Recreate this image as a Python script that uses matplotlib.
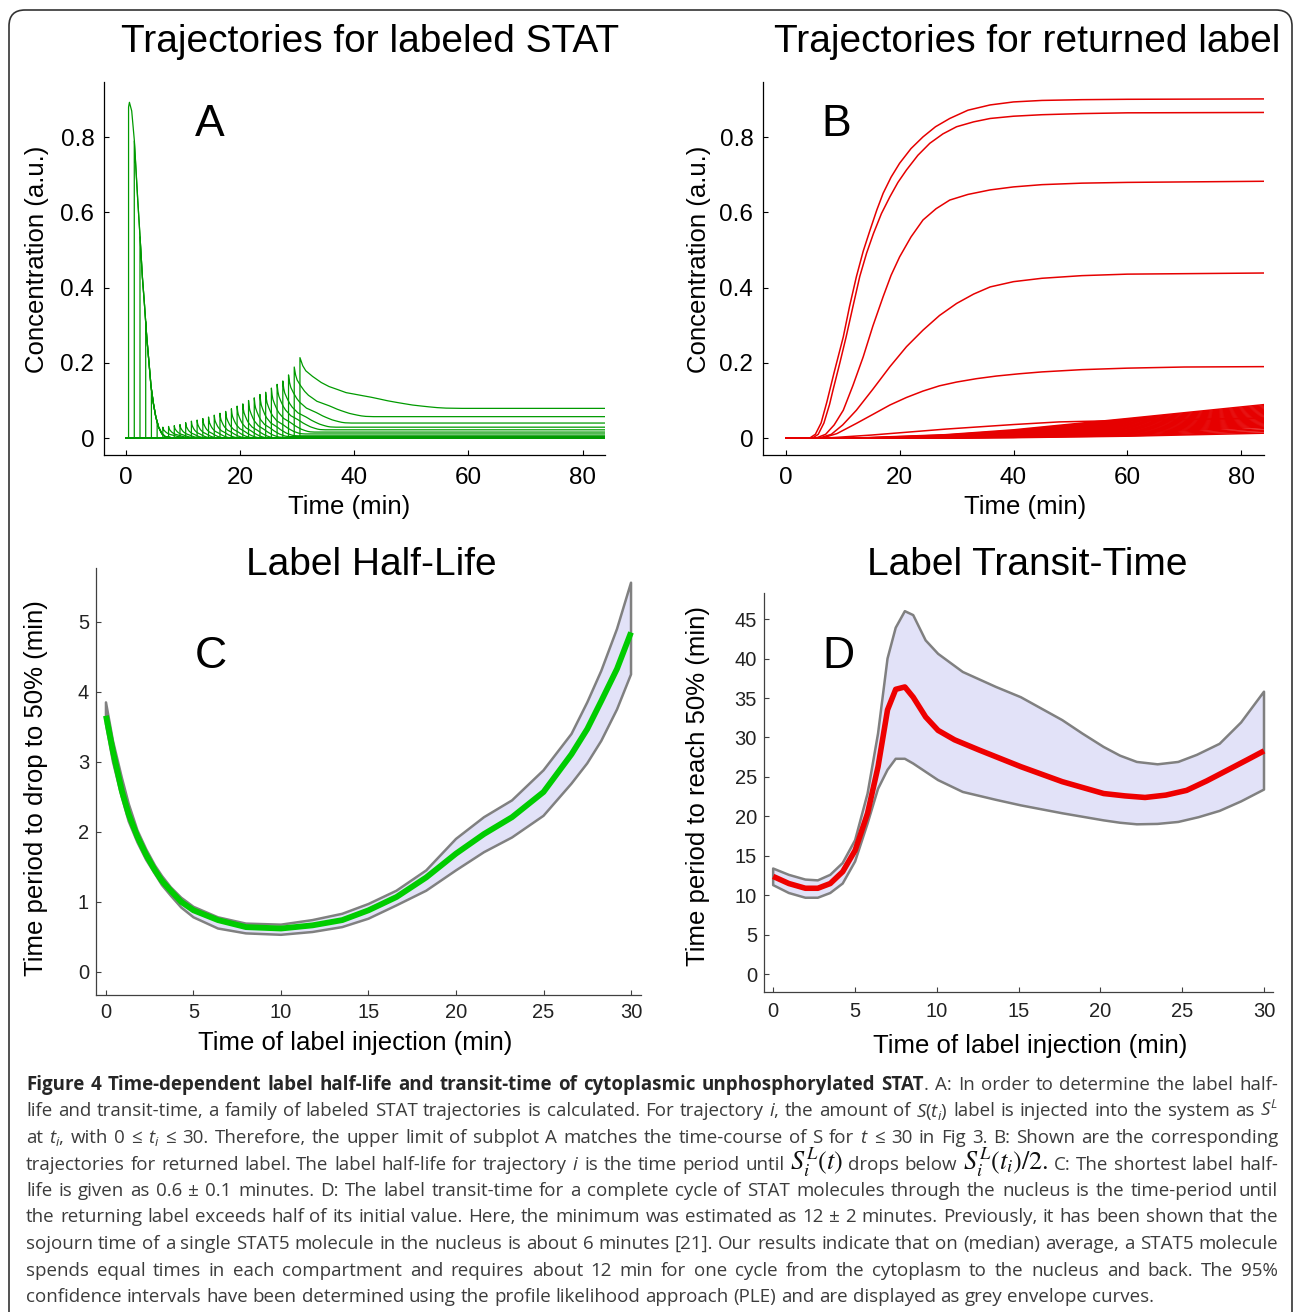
import matplotlib
matplotlib.use("Agg")
import matplotlib.pyplot as plt
import numpy as np
from matplotlib.patches import FancyBboxPatch

# ---------------- data ----------------
# A: labeled STAT trajectories (one per injection time)
a_inject = [0.5, 1.5, 2.5, 3.5, 4.5, 5.5, 6.5, 7.5, 8.5, 9.5, 10.5, 11.5, 12.5, 13.5, 14.5, 15.5,
            16.5, 17.5, 18.5, 19.5, 20.5, 21.5, 22.5, 23.5, 24.5, 25.5, 26.5, 27.5, 28.5, 29.5, 30.5]
a_peak = [0.88, 0.79, 0.535, 0.31, 0.13, 0.045, 0.029, 0.031, 0.033, 0.036, 0.041, 0.045, 0.048,
          0.052, 0.056, 0.061, 0.066, 0.071, 0.078, 0.085, 0.091, 0.100, 0.107, 0.116, 0.122,
          0.133, 0.143, 0.152, 0.168, 0.189, 0.214]
a_plateau = [0.0005, 0.0005, 0.0005, 0.0005, 0.0005, 0.0005, 0.001, 0.001, 0.001, 0.001, 0.001,
             0.001, 0.001, 0.001, 0.001, 0.001, 0.001, 0.001, 0.001, 0.001, 0.001, 0.002, 0.004,
             0.006, 0.011, 0.016, 0.022, 0.029, 0.040, 0.057, 0.079]
# decay time scale (min); None = trajectory joins the early decay curve
a_decay = [None, None, None, None, None, None, 0.75, 0.7, 0.65, 0.62, 0.6, 0.6, 0.62, 0.65, 0.7,
           0.75, 0.8, 0.85, 0.9, 0.95, 1.0, 1.05, 1.1, 1.15, 1.2, 1.3, 1.45, 1.6, 1.9, 2.4, 4.9]
# early decay curve (first injections)
env_t = [0.65, 1.05, 1.52, 2.11, 2.51, 2.92, 3.27, 3.68, 4.09, 4.44, 4.85, 5.26, 5.73, 6.32, 6.9, 8.0]
env_v = [0.893, 0.87, 0.79, 0.632, 0.535, 0.428, 0.358, 0.269, 0.198, 0.136, 0.092, 0.057, 0.030,
         0.012, 0.004, 0.001]
# decay shape after a spike: time in decay units, fraction of the drop left
prof_u = [0, 0.1, 0.21, 0.45, 0.76, 1.04, 1.35, 1.65, 1.95, 2.24, 2.54, 2.84, 3.13, 3.43, 3.72,
          4.02, 4.32, 4.61, 4.9, 5.22, 5.8]
prof_f = [1, 0.84, 0.74, 0.63, 0.51, 0.43, 0.37, 0.31, 0.28, 0.25, 0.22, 0.185, 0.15, 0.12, 0.093,
          0.066, 0.047, 0.03, 0.015, 0.005, 0]

# B: returned label
b_big_t = [
    [0, 4.2, 5.2, 6.2, 7.2, 8.5, 10.1, 11.2, 12.4, 13.6, 14.8, 16.0, 17.1, 18.5, 20.0, 22.0, 24.1,
     26.3, 28.8, 32.0, 35.9, 40, 45, 52, 60, 84],
    [0, 4.7, 5.7, 6.7, 7.7, 8.3, 9.5, 10.6, 11.8, 13.0, 14.2, 15.4, 16.8, 18.3, 19.7, 21.2, 23.2,
     25.3, 27.6, 30.0, 33.0, 35.9, 40, 45, 52, 60, 84],
    [0, 5.3, 7.0, 8.5, 10.1, 11.8, 13.6, 15.3, 17.1, 18.5, 20.0, 22.0, 24.1, 26.4, 28.8, 32.0, 35.9,
     40, 45, 52, 60, 84],
    [0, 5.9, 8.0, 10.0, 12.4, 15.3, 18.3, 21.2, 24.1, 27.0, 30.0, 33.0, 35.9, 40, 45, 52, 60, 84],
    [0, 6.4, 9.0, 12.4, 15.3, 18.3, 21.2, 24.1, 27.0, 30.0, 33.5, 37.0, 41.0, 45, 52, 60, 70, 84],
    [0, 7.0, 15.0, 28.2, 40.0, 48.0, 60, 84],
]
b_big_v = [
    [0, 0, 0.01, 0.04, 0.095, 0.175, 0.269, 0.35, 0.429, 0.497, 0.553, 0.607, 0.651, 0.694, 0.731,
     0.77, 0.801, 0.828, 0.85, 0.872, 0.886, 0.894, 0.898, 0.900, 0.901, 0.902],
    [0, 0, 0.01, 0.04, 0.09, 0.128, 0.2, 0.269, 0.35, 0.43, 0.492, 0.544, 0.597, 0.642, 0.68, 0.713,
     0.752, 0.784, 0.809, 0.828, 0.841, 0.85, 0.856, 0.860, 0.863, 0.865, 0.866],
    [0, 0, 0.01, 0.035, 0.074, 0.14, 0.216, 0.298, 0.376, 0.433, 0.482, 0.535, 0.58, 0.61, 0.633,
     0.648, 0.66, 0.668, 0.674, 0.678, 0.680, 0.683],
    [0, 0, 0.01, 0.035, 0.074, 0.13, 0.19, 0.243, 0.287, 0.326, 0.358, 0.383, 0.402, 0.416, 0.425,
     0.432, 0.436, 0.439],
    [0, 0, 0.012, 0.039, 0.063, 0.088, 0.108, 0.125, 0.139, 0.149, 0.158, 0.165, 0.171, 0.176, 0.182,
     0.186, 0.189, 0.19],
    [0, 0, 0.008, 0.024, 0.036, 0.043, 0.047, 0.053],
]
b_low_start = [12, 13, 14, 15, 16, 17, 18, 19, 20, 21, 22, 22, 23, 23, 24, 24, 25, 25, 26, 26, 26, 27, 27, 27, 27]
b_low_28 = [0.009, 0.008, 0.007, 0.007, 0.006, 0.006, 0.005, 0.005, 0.004, 0.004, 0.003, 0.003, 0.003,
            0.002, 0.002, 0.002, 0.001, 0.001, 0.001, 0.001, 0.0005, 0.0005, 0.0005, 0.0003, 0.0002]
b_low_40 = [0.022, 0.020, 0.019, 0.018, 0.017, 0.016, 0.015, 0.014, 0.013, 0.012, 0.011, 0.010, 0.009,
            0.008, 0.007, 0.006, 0.005, 0.005, 0.004, 0.004, 0.003, 0.003, 0.002, 0.002, 0.001]
b_low_60 = [0.052, 0.050, 0.048, 0.046, 0.044, 0.042, 0.040, 0.038, 0.036, 0.034, 0.032, 0.030, 0.028,
            0.026, 0.024, 0.022, 0.020, 0.018, 0.016, 0.014, 0.012, 0.010, 0.008, 0.006, 0.005]
b_low_84 = [0.089, 0.086, 0.083, 0.080, 0.077, 0.074, 0.071, 0.068, 0.065, 0.062, 0.059, 0.056, 0.053,
            0.050, 0.047, 0.044, 0.041, 0.038, 0.035, 0.032, 0.029, 0.025, 0.021, 0.017, 0.013]

# C: label half-life
c_t = [0, 0.4, 0.9, 1.3, 1.8, 2.3, 2.8, 3.2, 3.7, 4.3, 5, 6.4, 8, 10, 11.8, 13.5, 15, 16.6, 18.3, 20,
       21.6, 23.2, 25, 26.6, 27.5, 28.3, 29.2, 30]
c_mid = [3.66, 3.15, 2.59, 2.25, 1.93, 1.67, 1.45, 1.3, 1.16, 1.0, 0.88, 0.74, 0.64, 0.62, 0.665, 0.74,
         0.88, 1.07, 1.35, 1.69, 1.97, 2.21, 2.57, 3.11, 3.47, 3.87, 4.33, 4.85]
c_hi = [3.85, 3.3, 2.78, 2.4, 2.02, 1.75, 1.52, 1.37, 1.21, 1.06, 0.93, 0.78, 0.69, 0.675, 0.74, 0.83,
        0.97, 1.16, 1.45, 1.90, 2.21, 2.45, 2.88, 3.40, 3.85, 4.30, 4.9, 5.56]
c_lo = [3.54, 3.0, 2.50, 2.15, 1.85, 1.6, 1.40, 1.24, 1.09, 0.92, 0.78, 0.62, 0.55, 0.53, 0.57, 0.64,
        0.76, 0.95, 1.16, 1.45, 1.71, 1.92, 2.23, 2.69, 2.98, 3.30, 3.75, 4.25]

# D: label transit-time
d_t = [0, 0.96, 1.97, 2.73, 3.49, 4.25, 5.01, 5.77, 6.41, 6.99, 7.49, 8.05, 8.56, 9.32, 10.08, 11.09,
       12.6, 15.14, 17.67, 20.2, 21.5, 22.73, 24.0, 25.27, 26.5, 27.8, 29.0, 30]
d_mid = [12.4, 11.5, 10.9, 10.9, 11.5, 13.0, 15.7, 20.4, 26.3, 33.5, 36.1, 36.4, 35.1, 32.6, 30.9,
         29.7, 28.4, 26.3, 24.4, 22.9, 22.6, 22.4, 22.7, 23.3, 24.5, 25.9, 27.2, 28.3]
d_hi_t = [0, 0.96, 1.97, 2.73, 3.49, 4.25, 5.01, 5.77, 6.41, 6.99, 7.49, 8.05, 8.56, 9.32, 10.08,
          11.59, 13.62, 15.14, 17.67, 18.9, 20.2, 21.2, 22.23, 23.5, 24.76, 25.9, 27.29, 28.6, 30]
d_hi = [13.4, 12.6, 12.0, 11.9, 12.6, 14.1, 17.0, 22.9, 30.5, 40.0, 43.9, 46.0, 45.5, 42.3, 40.6,
        38.3, 36.4, 35.1, 32.2, 30.5, 28.8, 27.7, 26.9, 26.6, 26.9, 27.8, 29.2, 31.9, 35.8]
d_lo_t = [0, 0.96, 1.97, 2.73, 3.49, 4.25, 5.01, 5.77, 6.41, 6.99, 7.49, 8.05, 8.56, 10.08, 11.59,
          13.62, 15.14, 17.67, 20.2, 21.2, 22.23, 23.5, 24.76, 26.0, 27.29, 28.6, 30]
d_lo = [11.3, 10.3, 9.7, 9.7, 10.3, 11.5, 14.3, 19.1, 23.5, 25.9, 27.3, 27.3, 26.7, 24.6, 23.1, 22.1,
        21.4, 20.4, 19.5, 19.2, 19.0, 19.05, 19.3, 19.9, 20.7, 21.9, 23.4]

caption = [
    "*Figure *4 *Time-dependent *label *half-life *and *transit-time *of *cytoplasmic *unphosphorylated *STAT +. A: In order to determine the label half-",
    "life and transit-time, a family of labeled STAT trajectories is calculated. For trajectory $i$, the amount of $S(t_i)$ label is injected into the system as $S^L$",
    "at $t_i$, with 0 ≤ $t_i$ ≤ 30. Therefore, the upper limit of subplot A matches the time-course of S for $t$ ≤ 30 in Fig 3. B: Shown are the corresponding",
    "trajectories for returned label. The label half-life for trajectory $i$ is the time period until !$S_i^L(t)$ drops below !$S_i^L(t_i)/2.$ C: The shortest label half-",
    "life is given as 0.6 ± 0.1 minutes. D: The label transit-time for a complete cycle of STAT molecules through the nucleus is the time-period until",
    "the returning label exceeds half of its initial value. Here, the minimum was estimated as 12 ± 2 minutes. Previously, it has been shown that the",
    "sojourn time of a single STAT5 molecule in the nucleus is about 6 minutes [21]. Our results indicate that on (median) average, a STAT5 molecule",
    "spends equal times in each compartment and requires about 12 min for one cycle from the cytoplasm to the nucleus and back. The 95%",
    "confidence intervals have been determined using the profile likelihood approach (PLE) and are displayed as grey envelope curves.",
]

# ---------------- figure ----------------
W, H = 1295, 1312
plt.rcParams['font.family'] = ['Liberation Sans', 'DejaVu Sans']
plt.rcParams['mathtext.fontset'] = 'custom'
plt.rcParams['mathtext.rm'] = 'Open Sans'
plt.rcParams['mathtext.it'] = 'Open Sans:italic'
plt.rcParams['mathtext.bf'] = 'Open Sans:bold'

fig = plt.figure(figsize=(W / 100, H / 100), dpi=100)


def fy(py):
    return 1 - py / H


def make_axes(left, top, right, bottom):
    return fig.add_axes([left / W, 1 - bottom / H, (right - left) / W, (bottom - top) / H])


def style_axes(ax, spine_color, tick_fs, label_color, xpad, ypad):
    for s in ['top', 'right']:
        ax.spines[s].set_visible(False)
    for s in ['left', 'bottom']:
        ax.spines[s].set_color(spine_color)
        ax.spines[s].set_linewidth(0.9)
    ax.tick_params(direction='in', length=3.5, width=0.8, color=spine_color,
                   labelsize=tick_fs, labelcolor=label_color)
    ax.tick_params(axis='x', pad=xpad)
    ax.tick_params(axis='y', pad=ypad)
    ax.patch.set_alpha(0)


green = '#009a00'
red = '#e60000'

# panel A
axA = make_axes(104, 82, 605, 455)
for i, t0 in enumerate(a_inject):
    if a_decay[i] is None:
        tail = [(t, v) for t, v in zip(env_t, env_v) if t > t0 + 0.05]
        xs = [0, t0, t0] + [t for t, v in tail] + [84]
        ys = [0, 0, a_peak[i]] + [v for t, v in tail] + [a_plateau[i]]
    else:
        drop = a_peak[i] - a_plateau[i]
        xs = [0, t0, t0] + [t0 + u * a_decay[i] for u in prof_u[1:]] + [84]
        ys = [0, 0, a_peak[i]] + [a_plateau[i] + drop * f for f in prof_f[1:]] + [a_plateau[i]]
    axA.plot(xs, ys, color=green, lw=0.9, solid_joinstyle='round')
axA.set_xlim(-3.8, 83.9)
axA.set_ylim(-0.045, 0.947)
axA.set_xticks([0, 20, 40, 60, 80])
axA.set_yticks([0, 0.2, 0.4, 0.6, 0.8], ['0', '0.2', '0.4', '0.6', '0.8'])
style_axes(axA, 'black', 17.5, 'black', 9, 7)

# panel B
axB = make_axes(763, 82, 1264, 455)
for ts, vs in zip(b_big_t, b_big_v):
    axB.plot(ts, vs, color=red, lw=1.1, solid_joinstyle='round')
for s, v28, v40, v60, v84 in zip(b_low_start, b_low_28, b_low_40, b_low_60, b_low_84):
    axB.plot([0, s, 28, 40, 60, 84], [0, 0, v28, v40, v60, v84], color=red, lw=1.1)
axB.set_xlim(-4.0, 84.0)
axB.set_ylim(-0.045, 0.947)
axB.set_xticks([0, 20, 40, 60, 80])
axB.set_yticks([0, 0.2, 0.4, 0.6, 0.8], ['0', '0.2', '0.4', '0.6', '0.8'])
style_axes(axB, 'black', 17.5, 'black', 9, 7)

# panel C
axC = make_axes(96, 568, 641, 995)
axC.fill(c_t + c_t[::-1], c_hi + c_lo[::-1], facecolor='#e2e2f8', edgecolor='#808080', lw=1.8,
         joinstyle='round')
axC.plot(c_t, c_mid, color='#00cc00', lw=4.2, solid_joinstyle='round', solid_capstyle='butt')
axC.set_xlim(-0.57, 30.57)
axC.set_ylim(-0.33, 5.77)
axC.set_xticks([0, 5, 10, 15, 20, 25, 30])
axC.set_yticks([0, 1, 2, 3, 4, 5])
style_axes(axC, '#404040', 14.5, '#222222', 6, 5)

# panel D
axD = make_axes(764, 593, 1273, 992)
axD.fill(d_hi_t + d_lo_t[::-1], d_hi + d_lo[::-1], facecolor='#e2e2f8', edgecolor='#808080', lw=1.8,
         joinstyle='round')
axD.plot(d_t, d_mid, color='#ee0000', lw=4.0, solid_joinstyle='round', solid_capstyle='butt')
axD.set_xlim(-0.56, 30.55)
axD.set_ylim(-2.24, 48.3)
axD.set_xticks([0, 5, 10, 15, 20, 25, 30])
axD.set_yticks([0, 5, 10, 15, 20, 25, 30, 35, 40, 45])
style_axes(axD, '#404040', 14.5, '#222222', 7, 5)

# titles, letters, axis labels
for x, y, s in [(370, 42, 'Trajectories for labeled STAT'), (1027, 42, 'Trajectories for returned label'),
                (371, 565, 'Label Half-Life'), (1027, 565, 'Label Transit-Time')]:
    fig.text(x / W, fy(y), s, fontsize=28, ha='center', va='center')
for x, y, s in [(210, 125, 'A'), (836, 125, 'B'), (211, 657, 'C'), (838, 657, 'D')]:
    fig.text(x / W, fy(y), s, fontsize=32, ha='center', va='center')
for x, y, s in [(349, 507, 'Time (min)'), (1025, 507, 'Time (min)'),
                (355, 1043, 'Time of label injection (min)'), (1030, 1046, 'Time of label injection (min)')]:
    fig.text(x / W, fy(y), s, fontsize=18.5, ha='center', va='center')
for x, y, s in [(37, 259, 'Concentration (a.u.)'), (699, 259, 'Concentration (a.u.)'),
                (36, 788, 'Time period to drop to 50% (min)'), (698, 786, 'Time period to reach 50% (min)')]:
    fig.text(x / W, fy(y), s, fontsize=18.5, ha='center', va='center', rotation=90)

# rounded frame around the figure
fig.add_artist(FancyBboxPatch((9, -40), 1283, 1342, boxstyle='round,pad=0,rounding_size=16',
                              transform=None, fill=False, ec='#333333', lw=1.2))

# caption, justified line by line
renderer = fig.canvas.get_renderer()
cap_family = ['Open Sans', 'DejaVu Sans']
cap_color = '#3c3c3c'
cap_left, cap_right = 26, 1278
probe = fig.text(0, 0, caption[-1], fontsize=12, family=cap_family)
cap_fs = 12 * 1124 / probe.get_window_extent(renderer).width
probe.remove()


def caption_line(text, base_y, justify):
    objs = []
    for tok in text.split(' '):
        attach = tok.startswith('+')
        tok = tok.lstrip('+')
        kw = dict(fontsize=cap_fs, color=cap_color, family=cap_family, va='baseline',
                  ha='left', math_fontfamily='custom')
        if tok.startswith('*'):
            tok = tok[1:]
            kw['fontweight'] = 'bold'
            kw['color'] = '#262626'
        elif tok.startswith('!'):
            tok = tok[1:]
            kw['math_fontfamily'] = 'stix'
            kw['fontsize'] = cap_fs * 1.4
            kw['color'] = '#111111'
        objs.append((fig.text(0, fy(base_y), tok, **kw), attach))
    widths = [o.get_window_extent(renderer).width for o, a in objs]
    ngaps = sum(1 for o, a in objs[1:] if not a)
    if justify:
        gap = (cap_right - cap_left - sum(widths)) / ngaps
    else:
        gap = cap_fs * 0.26 * 100 / 72
    x = cap_left
    for k, ((o, a), w) in enumerate(zip(objs, widths)):
        if k > 0 and not a:
            x += gap
        o.set_x(x / W)
        x += w


for k, line in enumerate(caption):
    caption_line(line, 1090 + 26.5 * k, k < len(caption) - 1)

fig.savefig('out.png', dpi=100)
